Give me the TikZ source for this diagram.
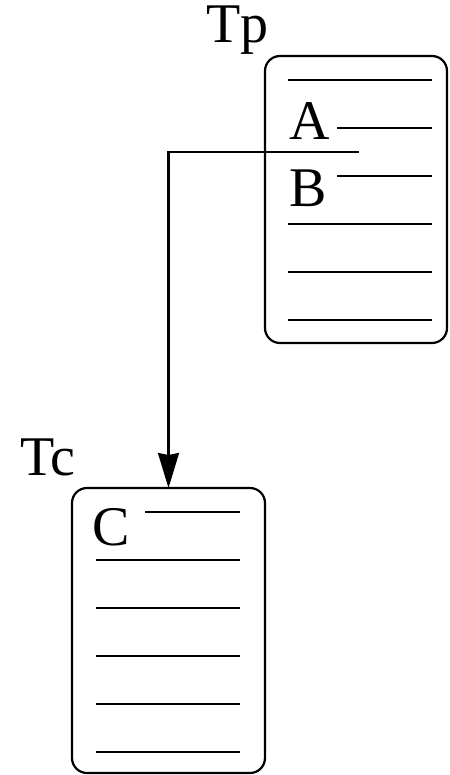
\documentclass[tikz,border=0pt]{standalone}
\usepackage{fontspec}
\setmainfont{Liberation Serif}
\usetikzlibrary{arrows.meta}
\begin{document}
\begin{tikzpicture}[x=1pt,y=-1pt,
  tbox/.style={draw, line width=2.2pt, rounded corners=15pt, inner sep=0pt, outer sep=0pt},
  row/.style={line width=1.4pt},
  lbl/.style={anchor=base west, inner sep=0pt, font=\fontsize{56}{56}\selectfont},
  conn/.style={line width=2.2pt, -{Stealth[length=35pt,width=21pt,inset=2pt]}}]
\useasboundingbox (0,0) rectangle (449,775);
% Tp table
\node[tbox, minimum width=182pt, minimum height=287pt] (tp) at (356,199.5) {};
\node[lbl] (tplbl) at (206,43) {Tp};
\node[lbl] (a) at (289,140) {A};
\node[lbl] (b) at (289,207) {B};
\draw[row] (288,80) -- (432,80);
\draw[row] (337,128) -- (432,128);
\draw[row] (337,176) -- (432,176);
\draw[row] (288,224) -- (432,224);
\draw[row] (288,272) -- (432,272);
\draw[row] (288,320) -- (432,320);
% Tc table
\node[tbox, minimum width=193pt, minimum height=285pt] (tc) at (168.5,630.5) {};
\node[lbl] (tclbl) at (20,475) {Tc};
\node[lbl] (c) at (92,545) {C};
\draw[row] (145,512) -- (240,512);
\draw[row] (96,560) -- (240,560);
\draw[row] (96,608) -- (240,608);
\draw[row] (96,656) -- (240,656);
\draw[row] (96,704) -- (240,704);
\draw[row] (96,752) -- (240,752);
% connector
\coordinate (src) at (359,152);
\draw[conn] (src) -| (tc.north);
\end{tikzpicture}
\end{document}
